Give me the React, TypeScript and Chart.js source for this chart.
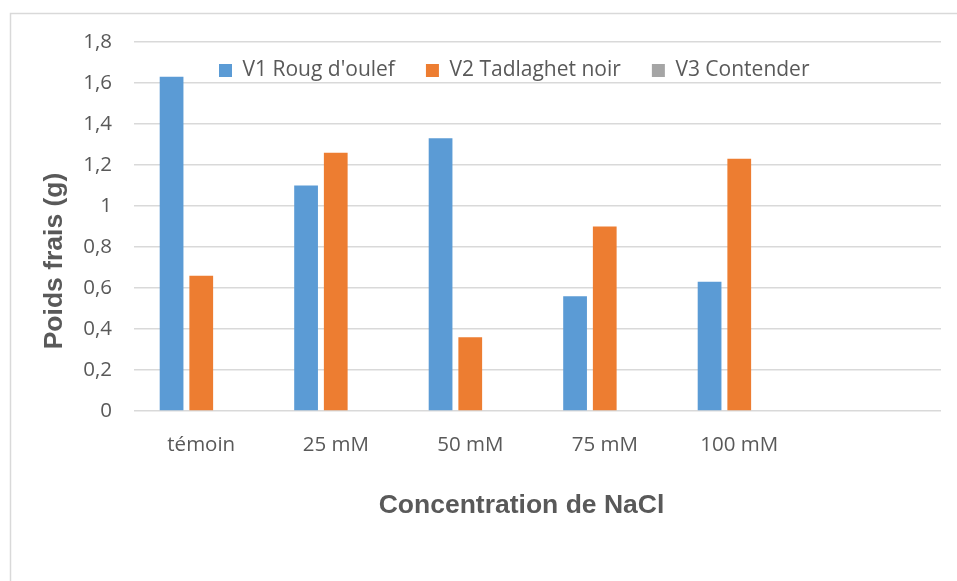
import React, { useEffect, useRef } from 'react';
import { Chart, registerables } from 'chart.js';

Chart.register(...registerables);

const categories = ['témoin', '25 mM', '50 mM', '75 mM', '100 mM', ''];
const seriesNames = ["V1 Roug d'oulef", 'V2 Tadlaghet noir', 'V3 Contender'];
const v1Values: (number | null)[] = [1.63, 1.1, 1.33, 0.56, 0.63, null];
const v2Values: (number | null)[] = [0.66, 1.26, 0.36, 0.9, 1.23, null];
const v3Values: (number | null)[] = [null, null, null, null, null, null];
const yTickLabels = ['0', '0,2', '0,4', '0,6', '0,8', '1', '1,2', '1,4', '1,6', '1,8'];
const yAxisTitle = 'Poids frais (g)';
const xAxisTitle = 'Concentration de NaCl';
const seriesColors = ['#5B9BD5', '#ED7D31', '#A5A5A5'];

const TEXT = '#595959';
const GRID = '#D9D9D9';
const TICK_FONT = { family: '"Open Sans", sans-serif', size: 20.5 };

function patchLegend(chart: any) {
  const lg = chart.legend;
  if (lg && !lg.__patched) {
    const orig = lg.fit.bind(lg);
    lg.fit = function () {
      orig();
      this.height = 0;
    };
    lg.__patched = true;
  }
}

const excelLayout = {
  id: 'excelLayout',
  afterInit(chart: any) {
    patchLegend(chart);
  },
  beforeLayout(chart: any) {
    patchLegend(chart);
  },
  afterLayout(chart: any) {
    const lg = chart.legend;
    if (lg) {
      lg.top = 29;
      lg.bottom = 100;
      lg.height = 71;
      lg.left = 188;
      lg.right = 941;
      lg.width = 753;
    }
  },
  beforeDraw(chart: any) {
    const ctx = chart.ctx;
    ctx.save();
    ctx.fillStyle = '#FFFFFF';
    ctx.fillRect(0, 0, chart.width, chart.height);
    ctx.strokeStyle = GRID;
    ctx.lineWidth = 1.5;
    ctx.strokeRect(10.5, 13.5, 1200, 1200);
    ctx.restore();
  },
  afterDraw(chart: any) {
    const ctx = chart.ctx;
    ctx.save();
    ctx.fillStyle = TEXT;
    ctx.font = 'bold 26.5px "Liberation Sans", Arial, sans-serif';
    ctx.textAlign = 'center';
    ctx.textBaseline = 'alphabetic';
    ctx.fillText(xAxisTitle, 521.5, 513);
    ctx.translate(62, 261);
    ctx.rotate(-Math.PI / 2);
    ctx.fillText(yAxisTitle, 0, 0);
    ctx.restore();
  },
};

export default function App() {
  const canvasRef = useRef<HTMLCanvasElement | null>(null);

  useEffect(() => {
    const canvas = canvasRef.current;
    if (!canvas) return;
    const seriesData = [v1Values, v2Values, v3Values];
    const chart = new Chart(canvas, {
      type: 'bar',
      data: {
        labels: categories,
        datasets: seriesNames.map((name, i) => ({
          label: name,
          data: seriesData[i],
          backgroundColor: seriesColors[i],
          borderWidth: 0,
          categoryPercentage: 0.662,
          barPercentage: 0.8,
        })),
      },
      options: {
        responsive: false,
        animation: false,
        events: [],
        layout: { padding: { top: 42, left: 0, right: 16, bottom: 0 } },
        plugins: {
          tooltip: { enabled: false },
          legend: {
            display: true,
            position: 'top',
            align: 'start',
            labels: {
              color: TEXT,
              font: { family: '"Open Sans", sans-serif', size: 21 },
              boxWidth: 13,
              boxHeight: 13,
              padding: 31,
            },
          },
        },
        scales: {
          x: {
            grid: { display: false },
            border: { display: false },
            ticks: {
              color: TEXT,
              font: TICK_FONT,
              padding: 14,
              maxRotation: 0,
              autoSkip: false,
            },
            afterFit: (scale: any) => {
              scale.height = 170;
            },
          },
          y: {
            min: 0,
            max: 1.8,
            grid: { color: GRID, lineWidth: 1.5, drawTicks: false },
            border: { display: false },
            ticks: {
              stepSize: 0.2,
              color: TEXT,
              font: TICK_FONT,
              padding: 22,
              callback: (_v: any, index: number) => yTickLabels[index],
            },
            afterFit: (scale: any) => {
              scale.width = 134;
            },
          },
        },
      },
      plugins: [excelLayout],
    } as any);
    return () => chart.destroy();
  }, []);

  return (
    <div style={{ position: 'absolute', left: 0, top: 0, width: 957, height: 581, background: '#fff' }}>
      <canvas ref={canvasRef} width={957} height={581} style={{ width: 957, height: 581, display: 'block' }} />
    </div>
  );
}
